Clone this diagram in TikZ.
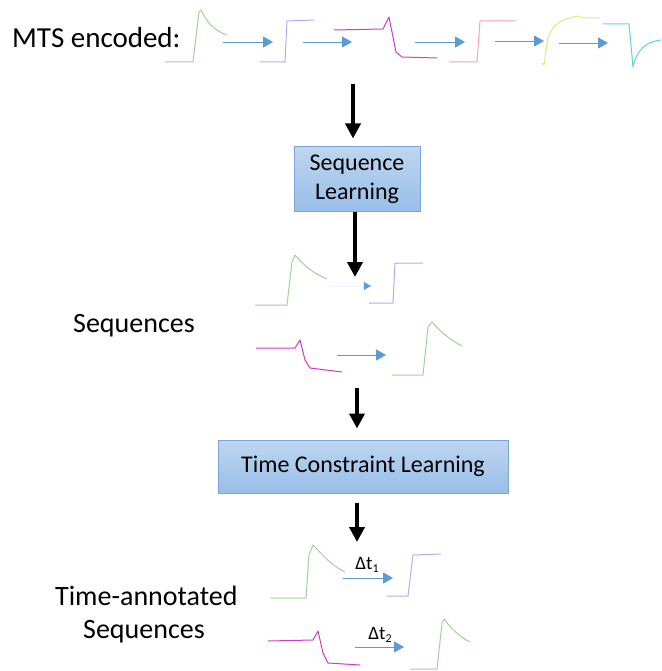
\documentclass[tikz,border=0pt]{standalone}
\usepackage{fontspec}
\setmainfont{Carlito}
\usetikzlibrary{arrows.meta}
\definecolor{sgreen}{RGB}{160,210,150}
\definecolor{spurple}{RGB}{180,170,240}
\definecolor{smagenta}{RGB}{205,60,205}
\definecolor{spink}{RGB}{245,160,180}
\definecolor{syellow}{RGB}{228,228,130}
\definecolor{scyan}{RGB}{90,212,215}
\definecolor{ablue}{RGB}{91,155,213}
\definecolor{boxtop}{RGB}{190,214,240}
\definecolor{boxbot}{RGB}{152,190,232}
\definecolor{boxedge}{RGB}{125,165,215}
\tikzset{
  sig/.style={line width=1pt, line join=round},
  flow/.style={draw=ablue, line width=0.9pt, -{Triangle[width=11pt,length=10pt]}, ablue},
  faintflow/.style={draw=ablue!12, line width=0.9pt, -{Triangle[width=11pt,length=10pt,fill=ablue]}},
  bigarrow/.style={line width=4.5pt, -{Triangle[width=15pt,length=15pt]}, black},
  stagebox/.style={draw=boxedge, line width=1pt, top color=boxtop, bottom color=boxbot,
    font=\fontsize{24}{28}\selectfont, align=center, inner sep=0pt},
  label/.style={anchor=base west, inner sep=0pt, font=\fontsize{28}{32}\selectfont},
  dt/.style={inner sep=0pt, font=\fontsize{19}{21}\selectfont},
}
\newcommand{\dtsub}[1]{\raisebox{-0.35ex}{\fontsize{12}{12}\selectfont #1}}
\begin{document}
\begin{tikzpicture}[x=1pt, y=-1pt]
\useasboundingbox (0,0) rectangle (661,671);

% ---------- encoded multivariate series ----------
\node[label, font=\fontsize{29}{33}\selectfont] (mts) at (12,48) {MTS encoded:};
\draw[sig, sgreen] (165,62) -- (193,62) -- (199,12) -- (201,10)
  .. controls (206,20) and (212,30) .. (227,35);
\draw[flow] (223,42) coordinate (a1s) -- (273,42) coordinate (a1e);
\draw[sig, spurple] (260,62) -- (285,62) -- (287,21) -- (314,20);
\draw[flow] (303,42) coordinate (a2s) -- (352,42) coordinate (a2e);
\draw[sig, smagenta] (334,30) -- (383,29) -- (389,17) -- (396,52) -- (402,57) -- (437,58);
\draw[flow] (415,42) coordinate (a3s) -- (465,42) coordinate (a3e);
\draw[sig, spink] (449,62) -- (477,62) -- (480,21) -- (516,21);
\draw[flow] (495,41) coordinate (a4s) -- (544,41) coordinate (a4e);
\draw[sig, syellow] (542,63) -- (544,65) -- (547,42)
  .. controls (550,28) and (558,20) .. (570,18) -- (577,16) -- (584,18) -- (600,18);
\draw[flow] (559,43) coordinate (a5s) -- (608,43) coordinate (a5e);
\draw[sig, scyan] (603,24) -- (629,24) -- (633,67)
  .. controls (637,50) and (645,42) .. (661,40);

% ---------- stage 1 ----------
\coordinate (c1) at (353,84);
\node[stagebox, minimum width=126pt, minimum height=64pt] (seqlearn) at (357,179)
  {Sequence\\[1pt]Learning};
\draw[bigarrow, shorten >=8pt] (c1) -- (c1 |- seqlearn.north);

\coordinate (c2) at (355,277);
\draw[bigarrow] (seqlearn.south -| c2) -- (c2);

% ---------- learned sequences ----------
\node[label] (seqs) at (73,332) {Sequences};
\draw[sig, sgreen] (255,305) -- (287,305) -- (292,262) -- (295,255)
  .. controls (301,262) and (310,272) .. (327,279);
\draw[faintflow] (330,286) coordinate (b1s) -- (373,286) coordinate (b1e);
\draw[sig, spurple] (369,303) -- (393,303) -- (395,263) -- (423,263);
\draw[sig, smagenta] (256,348) -- (295,348) -- (300,340) -- (305,360) -- (310,368) -- (342,372);
\draw[flow] (337,355) coordinate (b2s) -- (386,355) coordinate (b2e);
\draw[sig, sgreen] (392,375) -- (423,375) -- (428,327) -- (432,322)
  .. controls (438,329) and (447,338) .. (462,346);

% ---------- stage 2 ----------
\coordinate (c3) at (357,388);
\node[stagebox, minimum width=290pt, minimum height=53pt] (tclearn) at (363,466.5)
  {Time Constraint Learning};
\draw[bigarrow, shorten >=11pt] (c3) -- (c3 |- tclearn.north);

\coordinate (c4) at (357,542);
\draw[bigarrow, shorten <=9pt] (tclearn.south -| c4) -- (c4);

% ---------- time-annotated sequences ----------
\node[label] (tas1) at (55,605) {Time-annotated};
\node[label] (tas2) at (83,638) {Sequences};
\draw[sig, sgreen] (270,598) -- (306,598) -- (309,555) -- (313,545)
  .. controls (320,552) and (330,565) .. (345,572);
\draw[flow] (343,578) coordinate (d1s) -- (393,578) coordinate (d1e);
\node[dt] (dt1) at (367,565) {Δt\dtsub{1}};
\draw[sig, spurple] (387,596) -- (408,596) -- (413,555) -- (441,554);
\draw[sig, smagenta] (268,641) -- (313,640) -- (318,631) -- (323,653) -- (328,663) -- (360,665);
\draw[flow] (355,647) coordinate (d2s) -- (404,647) coordinate (d2e);
\node[dt] (dt2) at (380,635) {Δt\dtsub{2}};
\draw[sig, sgreen] (410,669) -- (437,669) -- (442,623) -- (444,619)
  .. controls (450,627) and (458,636) .. (470,642);
\end{tikzpicture}
\end{document}
